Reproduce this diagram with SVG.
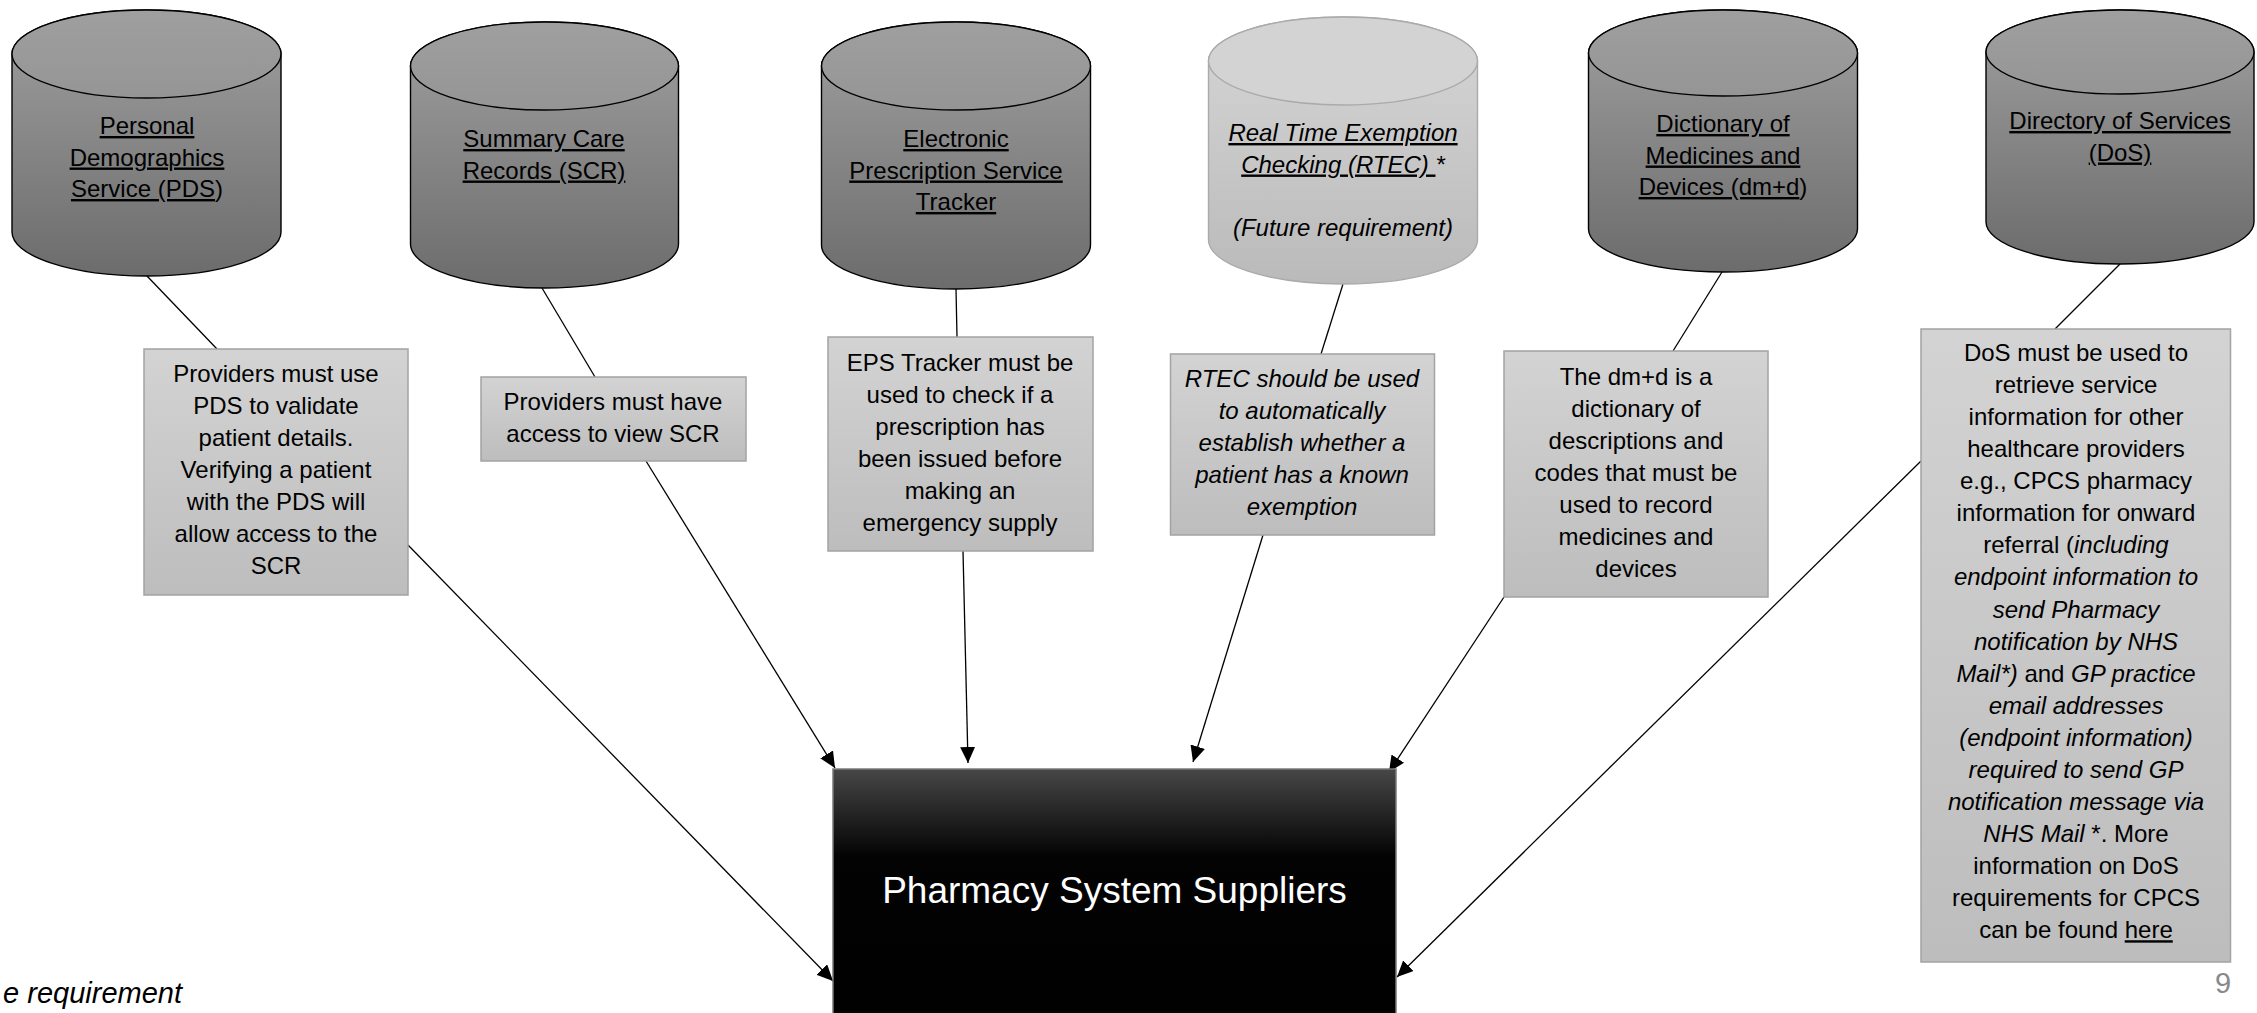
<svg xmlns="http://www.w3.org/2000/svg" width="2257" height="1013" viewBox="0 0 2257 1013">
<style>
text{font-family:"Liberation Sans",Arial,sans-serif;font-size:24px;fill:#000;text-anchor:middle}
.u{text-decoration:underline}
.i{font-style:italic}
.cyl{fill:url(#cylBody);stroke:#000;stroke-width:1.4}
.cyltop{fill:url(#cylTop);stroke:#000;stroke-width:1.4}
.cylL{fill:url(#cylBodyL);stroke:#aaaaaa;stroke-width:1.4}
.cyltopL{fill:#d3d3d3;stroke:#aaaaaa;stroke-width:1.4}
.box{fill:url(#boxGrad);stroke:#a3a3a3;stroke-width:1.5}
.ln{stroke:#000;stroke-width:1.3;fill:none}
.ar{stroke:#000;stroke-width:1.3;fill:none;marker-end:url(#arrow)}
</style>
<defs>
<linearGradient id="cylBody" x1="0" y1="0" x2="0" y2="1">
<stop offset="0" stop-color="#a0a0a0"/><stop offset="1" stop-color="#6c6c6c"/>
</linearGradient>
<linearGradient id="cylTop" x1="0" y1="0" x2="0" y2="1">
<stop offset="0" stop-color="#9f9f9f"/><stop offset="1" stop-color="#959595"/>
</linearGradient>
<linearGradient id="cylBodyL" x1="0" y1="0" x2="0" y2="1">
<stop offset="0" stop-color="#d6d6d6"/><stop offset="1" stop-color="#bababa"/>
</linearGradient>
<linearGradient id="boxGrad" x1="0" y1="0" x2="0" y2="1">
<stop offset="0" stop-color="#d3d3d3"/><stop offset="1" stop-color="#bdbdbd"/>
</linearGradient>
<linearGradient id="mainGrad" x1="0" y1="0" x2="0" y2="1">
<stop offset="0" stop-color="#474747"/><stop offset="0.35" stop-color="#030303"/><stop offset="1" stop-color="#000"/>
</linearGradient>
<marker id="arrow" viewBox="0 0 16 15" refX="16" refY="7.5" markerWidth="16" markerHeight="15" markerUnits="userSpaceOnUse" orient="auto">
<path d="M0,0 L16,7.5 L0,15 Z" fill="#000"/>
</marker>
</defs>
<rect width="2257" height="1013" fill="#fff"/>

<g id="connectors">
<line class="ln" x1="147" y1="276" x2="217" y2="349"/>
<line class="ar" x1="408" y1="545" x2="833" y2="981"/>
<line class="ln" x1="542" y1="288" x2="595" y2="377"/>
<line class="ar" x1="646" y1="461" x2="835" y2="768"/>
<line class="ln" x1="956" y1="289" x2="957" y2="337"/>
<line class="ar" x1="963" y1="551" x2="968" y2="763"/>
<line class="ln" x1="1343" y1="284" x2="1321" y2="354"/>
<line class="ar" x1="1263" y1="535" x2="1193" y2="762"/>
<line class="ln" x1="1722" y1="272" x2="1673" y2="351"/>
<line class="ar" x1="1504" y1="597" x2="1389" y2="772"/>
<line class="ln" x1="2120" y1="264" x2="2055" y2="329"/>
<line class="ar" x1="1921" y1="461" x2="1397" y2="977"/>
</g>

<g id="pds">
<path class="cyl" d="M12,54 L12,232 A134.5,44 0 0 0 281,232 L281,54 A134.5,44 0 0 0 12,54 Z"/>
<ellipse class="cyltop" cx="146.5" cy="54" rx="134.5" ry="44"/>
<text x="147" y="134"><tspan class="u">Personal</tspan><tspan x="147" dy="31.5" class="u">Demographics</tspan><tspan x="147" dy="31.5"><tspan class="u">Service (PDS</tspan>)</tspan></text>
</g>

<g id="scr">
<path class="cyl" d="M410.5,66 L410.5,244 A134,44 0 0 0 678.5,244 L678.5,66 A134,44 0 0 0 410.5,66 Z"/>
<ellipse class="cyltop" cx="544.5" cy="66" rx="134" ry="44"/>
<text x="544" y="147"><tspan class="u">Summary Care</tspan><tspan x="544" dy="31.5" class="u">Records (SCR)</tspan></text>
</g>

<g id="eps">
<path class="cyl" d="M821.5,66 L821.5,245 A134.5,44 0 0 0 1090.5,245 L1090.5,66 A134.5,44 0 0 0 821.5,66 Z"/>
<ellipse class="cyltop" cx="956" cy="66" rx="134.5" ry="44"/>
<text x="956" y="147"><tspan class="u">Electronic</tspan><tspan x="956" dy="31.5" class="u">Prescription Service</tspan><tspan x="956" dy="31.5" class="u">Tracker</tspan></text>
</g>

<g id="rtec">
<path class="cylL" d="M1208.5,61 L1208.5,240 A134.5,44 0 0 0 1477.5,240 L1477.5,61 A134.5,44 0 0 0 1208.5,61 Z"/>
<ellipse class="cyltopL" cx="1343" cy="61" rx="134.5" ry="44"/>
<text x="1343" y="141" class="i"><tspan class="u">Real Time Exemption</tspan><tspan x="1343" dy="31.5"><tspan class="u">Checking (RTEC) </tspan>*</tspan><tspan x="1343" dy="63">(Future requirement)</tspan></text>
</g>

<g id="dmd">
<path class="cyl" d="M1588.5,53 L1588.5,229 A134.5,43 0 0 0 1857.5,229 L1857.5,53 A134.5,43 0 0 0 1588.5,53 Z"/>
<ellipse class="cyltop" cx="1723" cy="53" rx="134.5" ry="43"/>
<text x="1723" y="132"><tspan class="u">Dictionary of</tspan><tspan x="1723" dy="31.5" class="u">Medicines and</tspan><tspan x="1723" dy="31.5"><tspan class="u">Devices (dm+d</tspan>)</tspan></text>
</g>

<g id="dos">
<path class="cyl" d="M1986,52 L1986,222 A134,42 0 0 0 2254,222 L2254,52 A134,42 0 0 0 1986,52 Z"/>
<ellipse class="cyltop" cx="2120" cy="52" rx="134" ry="42"/>
<text x="2120" y="129"><tspan class="u">Directory of Services</tspan><tspan x="2120" dy="31.5" class="u">(DoS)</tspan></text>
</g>

<g id="pds-note">
<rect class="box" x="144" y="349" width="264" height="246"/>
<text x="276" y="382"><tspan>Providers must use</tspan><tspan x="276" dy="32">PDS to validate</tspan><tspan x="276" dy="32">patient details.</tspan><tspan x="276" dy="32">Verifying a patient</tspan><tspan x="276" dy="32">with the PDS will</tspan><tspan x="276" dy="32">allow access to the</tspan><tspan x="276" dy="32">SCR</tspan></text>
</g>

<g id="scr-note">
<rect class="box" x="481" y="377" width="265" height="84"/>
<text x="613" y="410"><tspan>Providers must have</tspan><tspan x="613" dy="32">access to view SCR</tspan></text>
</g>

<g id="eps-note">
<rect class="box" x="828" y="337" width="265" height="214"/>
<text x="960" y="371"><tspan>EPS Tracker must be</tspan><tspan x="960" dy="32">used to check if a</tspan><tspan x="960" dy="32">prescription has</tspan><tspan x="960" dy="32">been issued before</tspan><tspan x="960" dy="32">making an</tspan><tspan x="960" dy="32">emergency supply</tspan></text>
</g>

<g id="rtec-note">
<rect class="box" x="1170.5" y="354" width="264" height="181"/>
<text x="1302" y="387" class="i"><tspan>RTEC should be used</tspan><tspan x="1302" dy="32">to automatically</tspan><tspan x="1302" dy="32">establish whether a</tspan><tspan x="1302" dy="32">patient has a known</tspan><tspan x="1302" dy="32">exemption</tspan></text>
</g>

<g id="dmd-note">
<rect class="box" x="1504" y="351" width="264" height="246"/>
<text x="1636" y="385"><tspan>The dm+d is a</tspan><tspan x="1636" dy="32">dictionary of</tspan><tspan x="1636" dy="32">descriptions and</tspan><tspan x="1636" dy="32">codes that must be</tspan><tspan x="1636" dy="32">used to record</tspan><tspan x="1636" dy="32">medicines and</tspan><tspan x="1636" dy="32">devices</tspan></text>
</g>

<g id="dos-note">
<rect class="box" x="1921" y="329" width="309.5" height="633"/>
<text x="2076" y="361"><tspan>DoS must be used to</tspan><tspan x="2076" dy="32.07">retrieve service</tspan><tspan x="2076" dy="32.07">information for other</tspan><tspan x="2076" dy="32.07">healthcare providers</tspan><tspan x="2076" dy="32.07">e.g., CPCS pharmacy</tspan><tspan x="2076" dy="32.07">information for onward</tspan><tspan x="2076" dy="32.07">referral (<tspan class="i">including</tspan></tspan><tspan x="2076" dy="32.07" class="i">endpoint information to</tspan><tspan x="2076" dy="32.07" class="i">send Pharmacy</tspan><tspan x="2076" dy="32.07" class="i">notification by NHS</tspan><tspan x="2076" dy="32.07"><tspan class="i">Mail*)</tspan> and <tspan class="i">GP practice</tspan></tspan><tspan x="2076" dy="32.07" class="i">email addresses</tspan><tspan x="2076" dy="32.07" class="i">(endpoint information)</tspan><tspan x="2076" dy="32.07" class="i">required to send GP</tspan><tspan x="2076" dy="32.07" class="i">notification message via</tspan><tspan x="2076" dy="32.07"><tspan class="i">NHS Mail</tspan> *. More</tspan><tspan x="2076" dy="32.07">information on DoS</tspan><tspan x="2076" dy="32.07">requirements for CPCS</tspan><tspan x="2076" dy="32.07">can be found <tspan class="u">here</tspan></tspan></text>
</g>

<g id="pharmacy-system-suppliers">
<rect x="833" y="769" width="563" height="250" fill="url(#mainGrad)" stroke="#7a7a7a" stroke-width="1.5"/>
<text x="1114.5" y="903" style="font-size:37px;fill:#fff">Pharmacy System Suppliers</text>
</g>

<text x="182" y="1003" class="i" style="font-size:29px;text-anchor:end">e requirement</text>
<text x="2223" y="993" style="font-size:29px;fill:#898989">9</text>
</svg>
